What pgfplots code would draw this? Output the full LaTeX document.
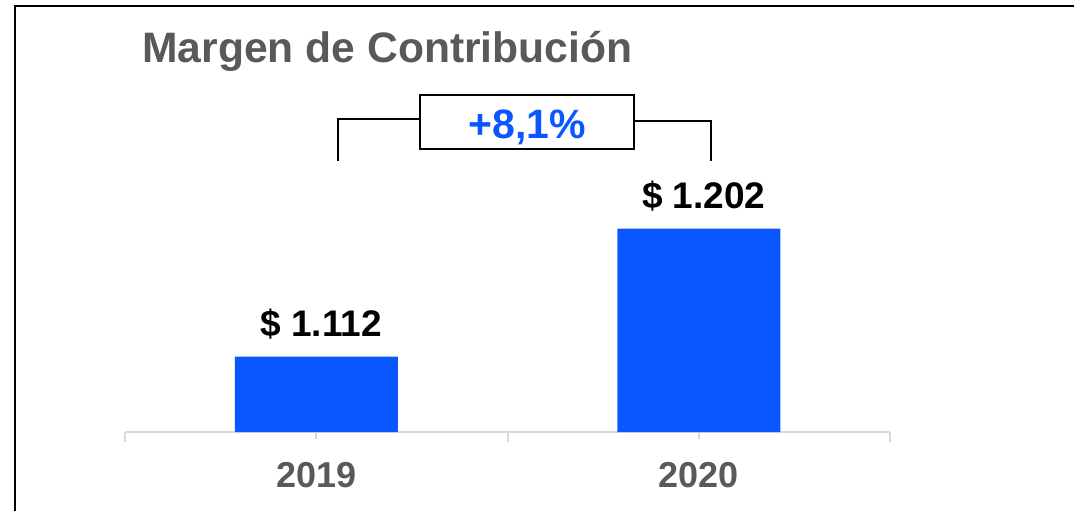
\documentclass[border=0pt]{standalone}
\usepackage{fontspec}
\setmainfont{Liberation Sans}
\usepackage{pgfplots}
\pgfplotsset{compat=1.18}
\definecolor{barblue}{HTML}{0A57FF}
\definecolor{txtgray}{HTML}{595959}
\definecolor{axgray}{HTML}{D9D9D9}
\begin{document}
\begin{tikzpicture}[x=0.5pt,y=0.5pt]
\useasboundingbox (0,0) rectangle (1074,510);
\draw[line width=1.3pt] (15,504) rectangle (1110,-40);
\node[anchor=base west, inner sep=0, text=txtgray, font=\fontsize{21.3}{25}\selectfont\bfseries] at (142,447) {Margen de Contribución};
\begin{axis}[
  at={(62.5pt,39pt)}, anchor=south west,
  scale only axis, width=382.5pt, height=171.38pt,
  xmin=-0.5, xmax=1.5, ymin=1059, ymax=1300,
  axis y line=none, axis x line*=bottom,
  x axis line style={-, draw=axgray, line width=1pt},
  xtick={0,1}, xticklabels={2019,2020},
  extra x ticks={-0.5,0.5,1.5}, extra x tick labels={},
  extra x tick style={major tick length=5pt},
  major tick length=3.5pt,
  tick align=outside,
  tick style={draw=axgray, line width=1pt},
  xticklabel style={text=txtgray, font=\fontsize{18}{22}\selectfont\bfseries, anchor=base, yshift=-24pt},
  ybar, bar width=81.5pt,
  point meta=explicit symbolic,
  nodes near coords,
  nodes near coords style={anchor=base, yshift=10pt, xshift=2.5pt, text=black, font=\fontsize{18.5}{22}\selectfont\bfseries, inner sep=0},
  clip=false,
]
\addplot[fill=barblue, draw=none] coordinates {(0,1112) [\$ 1.112] (1,1202) [\$ 1.202]};
\end{axis}
\draw[line width=1pt] (338,349) -- (338,391) -- (420,391);
\draw[line width=1pt] (634,389) -- (711,389) -- (711,349);
\draw[line width=1pt] (420,361) rectangle (634,415);
\node[anchor=base, inner sep=0, text=barblue, font=\fontsize{20.5}{24}\selectfont\bfseries] at (527,372) {+8,1\%};
\end{tikzpicture}
\end{document}
